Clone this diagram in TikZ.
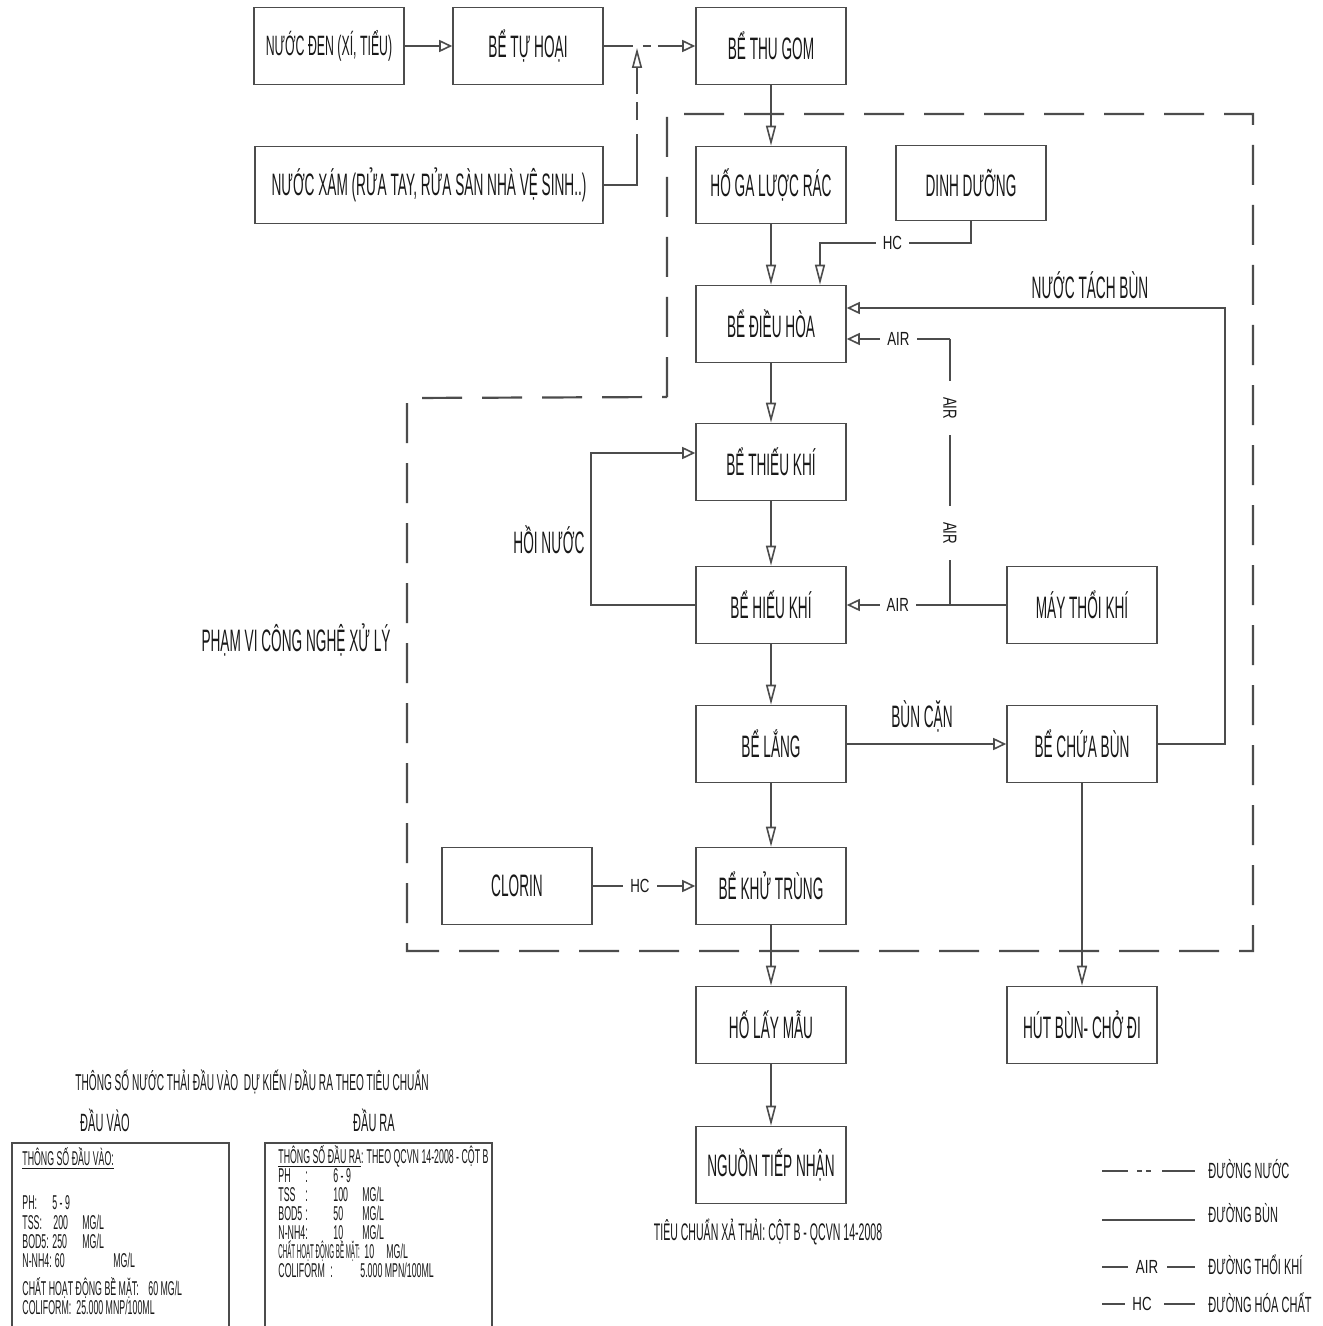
\documentclass[tikz,border=0pt]{standalone}
\usepackage{fontspec}
\usepackage{graphicx}
\setmainfont{Liberation Sans}[FakeStretch=0.44]
\newfontfamily\legfont{Liberation Sans}[FakeStretch=0.5]
\newfontfamily\airfont{Liberation Sans}[FakeStretch=0.7]
\usetikzlibrary{arrows.meta,calc}
\definecolor{ln}{gray}{0.3}
\definecolor{txt}{gray}{0.1}
\begin{document}
\begin{tikzpicture}[x=0.5pt,y=-0.5pt,
  box/.style={draw=ln,line width=0.8pt,minimum width=75pt,minimum height=38.5pt,inner sep=0pt,text=txt,font=\fontsize{15.5}{17}\selectfont},
  conn/.style={draw=ln,line width=0.8pt},
  vflow/.style={conn,-{Triangle[open,length=10pt,width=5pt]}},
  hflow/.style={conn,-{Triangle[open,length=6.5pt,width=6pt]}},
  hclab/.style={fill=white,inner xsep=3.5pt,inner ysep=1pt,text=txt,font=\airfont\fontsize{9.5}{11}\selectfont},
  vlab/.style={hclab,rotate=-90,inner xsep=8pt},
  boundary/.style={draw=ln,line width=1.1pt,dash pattern=on 20pt off 10pt},
  lbl/.style={text=txt,inner sep=0pt,font=\fontsize{15.5}{17}\selectfont},
  tbl/.style={text=txt,inner sep=0pt,anchor=mid west,font=\fontsize{10}{11}\selectfont},
  leg/.style={text=txt,inner sep=0pt,anchor=west,font=\legfont\fontsize{11}{13}\selectfont},
  legsym/.style={text=txt,inner sep=0pt,font=\airfont\fontsize{9.5}{11}\selectfont},
]
\useasboundingbox[fill=white] (0,0) rectangle (1322,1326);

% ---------- boxes ----------
\node[box] (nd) at (329,46) {\fontsize{14}{16}\selectfont NƯỚC ĐEN (XÍ, TIỂU)};
\node[box] (th) at (528,46) {BỂ TỰ HOẠI};
\node[box] (tg) at (771,46) {BỂ THU GOM};
\node[box,minimum width=174pt] (nx) at (429,185) {NƯỚC XÁM (RỬA TAY, RỬA SÀN NHÀ VỆ SINH..)};
\node[box] (hg) at (771,185) {HỐ GA LƯỢC RÁC};
\node[box,minimum height=37.5pt] (dd) at (971,183) {DINH DƯỠNG};
\node[box] (dh) at (771,324) {BỂ ĐIỀU HÒA};
\node[box] (tk) at (771,462) {BỂ THIẾU KHÍ};
\node[box] (hk) at (771,605) {BỂ HIẾU KHÍ};
\node[box] (mt) at (1082,605) {MÁY THỔI KHÍ};
\node[box] (bl) at (771,744) {BỂ LẮNG};
\node[box] (cb) at (1082,744) {BỂ CHỨA BÙN};
\node[box] (cl) at (517,886) {CLORIN};
\node[box] (kt) at (771,886) {BỂ KHỬ TRÙNG};
\node[box] (lm) at (771,1025) {HỐ LẤY MẪU};
\node[box] (hb) at (1082,1025) {HÚT BÙN- CHỞ ĐI};
\node[box] (nt) at (771,1165) {NGUỒN TIẾP NHẬN};

% ---------- labels ----------
\node[lbl] (pv) at (296,640) {PHẠM VI CÔNG NGHỆ XỬ LÝ};
\node[lbl] (hnl) at (549,540) {HỒI NƯỚC};
\node[lbl] (ntb) at (1090,285) {NƯỚC TÁCH BÙN};
\node[lbl] (bcl) at (922,716) {BÙN CẶN};

% ---------- boundary ----------
\draw[boundary] (667,397) -- (667,114) -- (1253,114) -- (1253,951) -- (407,951) -- (407,398) -- cycle;

% ---------- connectors ----------
\draw[hflow] (nd) -- (th);
\draw[hflow,dash pattern=on 14.5pt off 5pt on 4pt off 3.5pt on 60pt off 1pt] (th) -- (tg);
\coordinate (wj) at (637,48);
\draw[vflow,dash pattern=on 42pt off 7pt on 9pt off 4pt on 80pt off 1pt] (nx.east) -| (wj);
\draw[vflow] (tg) -- (hg);
\draw[vflow] (hg) -- (dh);
\coordinate (hcA) at (820,243);
\draw[vflow] (dd.south) |- node[hclab,pos=0.76]{HC} (hcA) -- (hcA |- dh.north);
\coordinate (r1) at (1225,308);
\draw[hflow] (cb.east) -| (r1) -- (r1 -| dh.east);
\coordinate (airT) at (950,339);
\coordinate (airB) at (950,605);
\draw[hflow] (airT) -- node[hclab]{AIR} (airT -| dh.east);
\draw[conn] (airT) -- node[vlab,pos=0.26]{AIR} node[vlab,pos=0.73]{AIR} (airB);
\draw[hflow] (mt) -- node[hclab,pos=0.68]{AIR} (hk);
\draw[vflow] (dh) -- (tk);
\draw[vflow] (tk) -- (hk);
\coordinate (hn) at (591,453);
\draw[hflow] (hk.west) -| (hn) -- (hn -| tk.west);
\draw[vflow] (hk) -- (bl);
\draw[hflow] (bl) -- (cb);
\draw[vflow] (bl) -- (kt);
\draw[hflow] (cl) -- node[hclab,pos=0.46]{HC} (kt);
\draw[vflow] (kt) -- (lm);
\draw[vflow] (lm) -- (nt);
\draw[vflow] (cb) -- (hb);

% ---------- bottom left: parameters ----------
\node[text=txt,inner sep=0pt,font=\fontsize{11.5}{13}\selectfont] (hd) at (252,1082) {THÔNG SỐ NƯỚC THẢI ĐẦU VÀO\ \ DỰ KIẾN / ĐẦU RA THEO TIÊU CHUẨN};
\node[text=txt,inner sep=0pt,font=\fontsize{12.5}{14}\selectfont] (dv) at (105,1120) {ĐẦU VÀO};
\node[text=txt,inner sep=0pt,font=\fontsize{12.5}{14}\selectfont] (dr) at (374,1120) {ĐẦU RA};
\draw[conn] (12,1330) |- (229,1143) -- (229,1330);
\draw[conn] (265,1330) |- (492,1143) -- (492,1330);

\node[tbl] (l0) at (22,1160) {\underline{THÔNG SỐ ĐẦU VÀO:}};
\node[tbl] (l1a) at (22,1204) {PH:};
\node[tbl] (l1b) at (52,1204) {5 - 9};
\node[tbl] (l2a) at (22,1224) {TSS:};
\node[tbl] (l2b) at (53,1224) {200};
\node[tbl] (l2c) at (82,1224) {MG/L};
\node[tbl] (l3a) at (22,1243) {BOD5:};
\node[tbl] (l3b) at (52,1243) {250};
\node[tbl] (l3c) at (82,1243) {MG/L};
\node[tbl] (l4a) at (22,1262) {N-NH4: 60};
\node[tbl] (l4c) at (113,1262) {MG/L};
\node[tbl] (l5a) at (22,1290) {CHẤT HOẠT ĐỘNG BỀ MẶT:};
\node[tbl] (l5b) at (148,1290) {60 MG/L};
\node[tbl] (l6a) at (22,1309) {COLIFORM:};
\node[tbl] (l6b) at (76,1309) {25.000 MNP/100ML};

\node[tbl] (r0) at (278,1158) {\underline{THÔNG SỐ ĐẦU RA}: THEO QCVN 14-2008 - CỘT B};
\node[tbl] (r1a) at (278,1177) {PH};
\node[tbl] (r1c) at (305,1177) {:};
\node[tbl] (r1b) at (333,1177) {6 - 9};
\node[tbl] (r2a) at (278,1196) {TSS};
\node[tbl] (r2c) at (305,1196) {:};
\node[tbl] (r2b) at (333,1196) {100};
\node[tbl] (r2d) at (362,1196) {MG/L};
\node[tbl] (r3a) at (278,1215) {BOD5};
\node[tbl] (r3c) at (305,1215) {:};
\node[tbl] (r3b) at (333,1215) {50};
\node[tbl] (r3d) at (362,1215) {MG/L};
\node[tbl] (r4a) at (278,1234) {N-NH4};
\node[tbl] (r4c) at (305,1234) {:};
\node[tbl] (r4b) at (333,1234) {10};
\node[tbl] (r4d) at (362,1234) {MG/L};
\node[tbl] (r5a) at (278,1253) {\scalebox{0.7}[1]{CHẤT HOẠT ĐỘNG BỀ MẶT:}};
\node[tbl] (r5b) at (364,1253) {10};
\node[tbl] (r5d) at (386,1253) {MG/L};
\node[tbl] (r6a) at (278,1272) {COLIFORM};
\node[tbl] (r6c) at (330,1272) {:};
\node[tbl] (r6b) at (360,1272) {5.000 MPN/100ML};

\node[text=txt,inner sep=0pt,font=\fontsize{12}{14}\selectfont] (tc) at (768,1232) {TIÊU CHUẨN XẢ THẢI: CỘT B - QCVN 14-2008};

% ---------- legend ----------
\draw[conn] (1102,1171) -- (1128,1171);
\draw[conn] (1137,1171) -- (1142,1171);
\draw[conn] (1146,1171) -- (1151,1171);
\draw[conn] (1162,1171) -- (1195,1171);
\node[leg] (g1) at (1208,1169) {ĐƯỜNG NƯỚC};
\draw[conn] (1102,1220) -- (1195,1220);
\node[leg] (g2) at (1208,1213) {ĐƯỜNG BÙN};
\draw[conn] (1102,1267) -- (1128,1267);
\node[legsym] (ga) at (1147,1267) {AIR};
\draw[conn] (1167,1267) -- (1195,1267);
\node[leg] (g3) at (1208,1265) {ĐƯỜNG THỔI KHÍ};
\draw[conn] (1102,1304) -- (1125,1304);
\node[legsym] (gh) at (1142,1304) {HC};
\draw[conn] (1164,1304) -- (1195,1304);
\node[leg] (g4) at (1208,1303) {ĐƯỜNG HÓA CHẤT};
\end{tikzpicture}
\end{document}
